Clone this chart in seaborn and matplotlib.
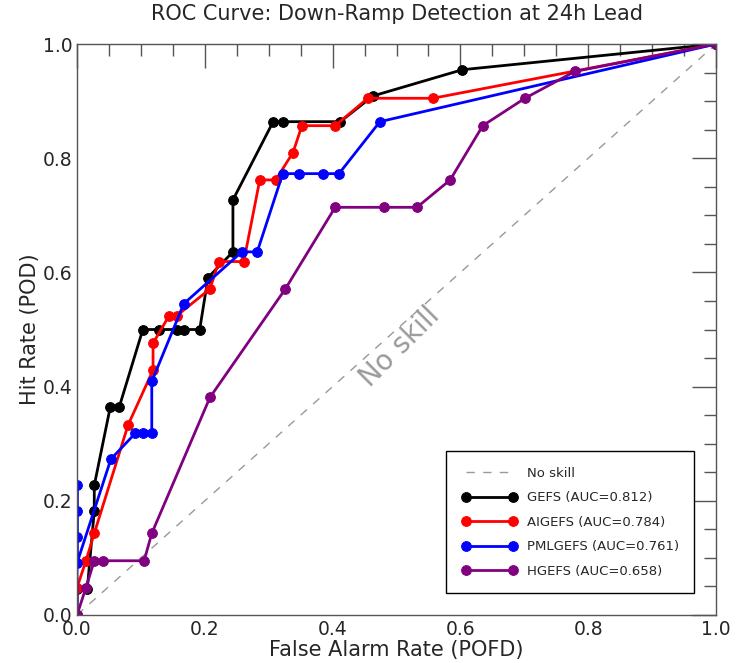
import seaborn as sns
import matplotlib.pyplot as plt
from matplotlib.ticker import MultipleLocator

# ROC points (POFD, POD)
gefs_x = [0.0, 0.0, 0.016, 0.027, 0.027, 0.052, 0.066, 0.103, 0.128, 0.156, 0.167, 0.192, 0.205, 0.244, 0.244, 0.307, 0.322, 0.412, 0.463, 0.603, 1.0]
gefs_y = [0.0, 0.045, 0.045, 0.182, 0.227, 0.364, 0.364, 0.5, 0.5, 0.5, 0.5, 0.5, 0.591, 0.636, 0.727, 0.864, 0.864, 0.864, 0.909, 0.955, 1.0]

aigefs_x = [0.0, 0.0, 0.014, 0.027, 0.080, 0.119, 0.119, 0.144, 0.156, 0.208, 0.222, 0.261, 0.286, 0.311, 0.338, 0.352, 0.404, 0.455, 0.557, 1.0]
aigefs_y = [0.0, 0.048, 0.095, 0.143, 0.333, 0.429, 0.476, 0.524, 0.524, 0.571, 0.619, 0.619, 0.762, 0.762, 0.810, 0.857, 0.857, 0.905, 0.905, 1.0]

pml_x = [0.0, 0.0, 0.0, 0.0, 0.0, 0.053, 0.091, 0.103, 0.117, 0.117, 0.167, 0.258, 0.282, 0.322, 0.347, 0.385, 0.410, 0.474, 1.0]
pml_y = [0.0, 0.227, 0.182, 0.136, 0.091, 0.273, 0.318, 0.318, 0.318, 0.409, 0.545, 0.636, 0.636, 0.773, 0.773, 0.773, 0.773, 0.864, 1.0]

hgefs_x = [0.0, 0.014, 0.027, 0.041, 0.105, 0.117, 0.208, 0.326, 0.404, 0.480, 0.532, 0.584, 0.635, 0.701, 0.779, 1.0]
hgefs_y = [0.0, 0.048, 0.095, 0.095, 0.095, 0.143, 0.381, 0.571, 0.714, 0.714, 0.714, 0.762, 0.857, 0.905, 0.952, 1.0]

models = ["GEFS", "AIGEFS", "PMLGEFS", "HGEFS"]
auc = [0.812, 0.784, 0.761, 0.658]
colors = ["black", "red", "blue", "purple"]
xs = [gefs_x, aigefs_x, pml_x, hgefs_x]
ys = [gefs_y, aigefs_y, pml_y, hgefs_y]

sns.set_style("white")
plt.rcParams["font.family"] = ["DejaVu Sans"]

fig = plt.figure(figsize=(7.37, 6.63), dpi=100)
ax = fig.add_axes([0.1045, 0.0724, 0.867, 0.8612])

ax.plot([0, 1], [0, 1], linestyle=(0, (6, 6)), color="#999999", lw=1, label="No skill")

for m, a, c, x, y in zip(models, auc, colors, xs, ys):
    sns.lineplot(x=x, y=y, sort=False, estimator=None, color=c, marker="o",
                 markersize=7, markeredgecolor=c, lw=2, ax=ax,
                 label=f"{m} (AUC={a:.3f})")

ax.text(0.505, 0.47, "No skill", rotation=45, fontsize=20, color="#9a9a9a",
        ha="center", va="center", transform=ax.transData)

ax.set_xlim(0, 1)
ax.set_ylim(0, 1)
ax.xaxis.set_major_locator(MultipleLocator(0.2))
ax.yaxis.set_major_locator(MultipleLocator(0.2))
ax.xaxis.set_minor_locator(MultipleLocator(0.05))
ax.yaxis.set_minor_locator(MultipleLocator(0.05))
ax.tick_params(which="both", direction="in", top=True, right=True, color="#555555", labelsize=13.5)
ax.tick_params(which="major", length=17, width=1)
ax.tick_params(which="minor", length=8.5, width=1)
for s in ax.spines.values():
    s.set_color("#555555")
    s.set_linewidth(1)

ax.set_title("ROC Curve: Down-Ramp Detection at 24h Lead", fontsize=15, pad=17)
ax.set_xlabel("False Alarm Rate (POFD)", fontsize=15, labelpad=1)
ax.set_ylabel("Hit Rate (POD)", fontsize=15, labelpad=2)

leg = ax.legend(loc="lower right", fontsize=9.5, numpoints=2, handlelength=4.2,
                handletextpad=0.75, labelspacing=0.88, borderaxespad=1.65,
                fancybox=False, framealpha=1, borderpad=1.15)
leg.get_frame().set_edgecolor("black")
leg.get_frame().set_linewidth(1)

fig.savefig("out.png", dpi=100)
